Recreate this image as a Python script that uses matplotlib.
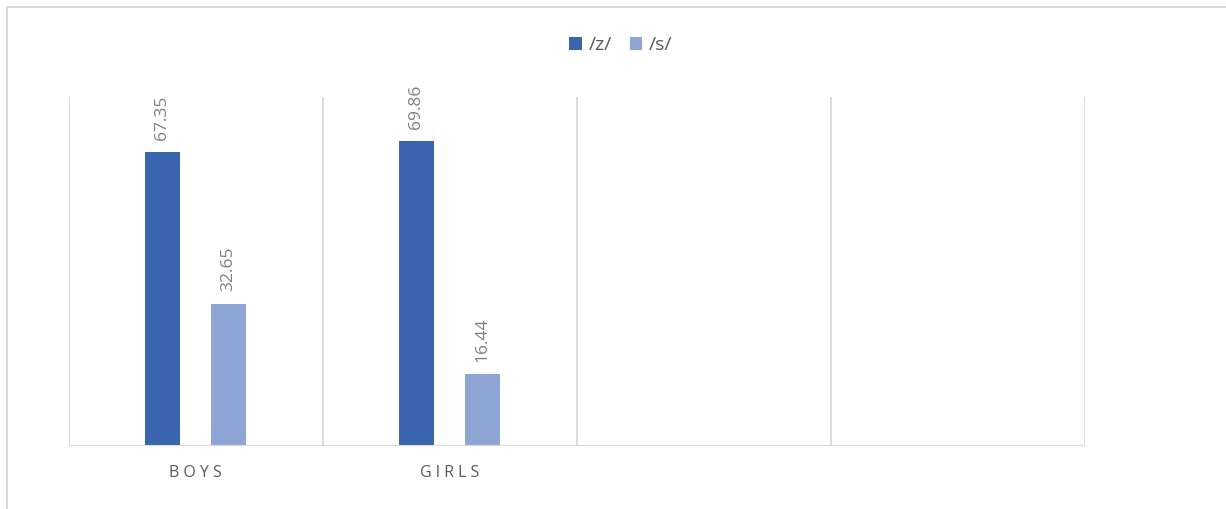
import matplotlib
matplotlib.use("Agg")
import matplotlib.pyplot as plt
from matplotlib.patches import Patch
import numpy as np

plt.rcParams['font.family'] = ['Open Sans', 'DejaVu Sans']

categories = ["BOYS", "GIRLS", "", ""]
series_names = ["/z/", "/s/"]
z_values = [67.35, 69.86]
s_values = [32.65, 16.44]
colors = ["#3A64AE", "#8FA5D5"]

W, H = 1226, 509
fig = plt.figure(figsize=(W / 100, H / 100), dpi=100)
ax = fig.add_axes([68.5 / W, 1 - 446 / H, (1084 - 68) / W, (446 - 97) / H])

width = 0.136
offset = 0.13
xz = np.arange(len(z_values)) - offset
xs = np.arange(len(s_values)) + offset
bz = ax.bar(xz, z_values, width, color=colors[0], zorder=3)
bs = ax.bar(xs, s_values, width, color=colors[1], zorder=3)

for bars, vals in ((bz, z_values), (bs, s_values)):
    for b, v in zip(bars, vals):
        ax.annotate(f"{v:.2f}", (b.get_x() + b.get_width() / 2, v),
                    xytext=(0, 9), textcoords="offset points",
                    rotation=90, ha="center", va="bottom",
                    fontsize=12.5, color="#7f7f7f")

n = len(categories)
ax.set_xlim(-0.5, n - 0.5)
ax.set_ylim(0, 80)
for xb in np.arange(-0.5, n, 1.0):
    ax.axvline(xb, color="#d9d9d9", lw=1.3, zorder=1)
ax.axhline(0, color="#d9d9d9", lw=1.5, zorder=4)

for sp in ax.spines.values():
    sp.set_visible(False)
ax.set_yticks([])
ax.set_xticks(range(n))
ax.set_xticklabels([" ".join(c) for c in categories], fontsize=11.5, color="#595959")
ax.tick_params(axis="x", length=0, pad=14)

handles = [Patch(facecolor=c) for c in colors]
fig.legend(handles, series_names, loc="center", bbox_to_anchor=(621 / W, 1 - 45 / H),
           ncol=2, frameon=False, fontsize=14, handlelength=0.65, handleheight=0.65,
           handletextpad=0.35, columnspacing=0.9, labelcolor="#595959")

# outer border (top and left visible)
fig.add_artist(plt.Line2D([7 / W, 7 / W], [0, 1 - 7 / H], transform=fig.transFigure, color="#d9d9d9", lw=1.5))
fig.add_artist(plt.Line2D([7 / W, 1], [1 - 7 / H, 1 - 7 / H], transform=fig.transFigure, color="#d9d9d9", lw=1.5))

fig.savefig("out.png", dpi=100)
